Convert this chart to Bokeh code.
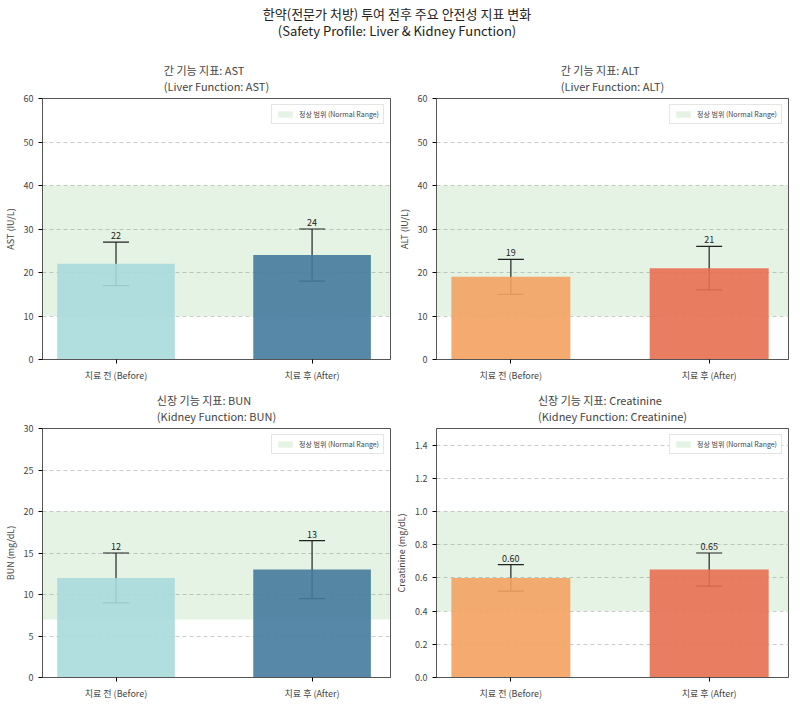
from bokeh.plotting import figure
from bokeh.models import ColumnDataSource, Whisker, BoxAnnotation, FixedTicker, Legend, LegendItem, Div, TeeHead
from bokeh.layouts import gridplot, column
from bokeh.core.properties import value
from bokeh.embed import file_html
from bokeh.resources import INLINE

FONT = "Noto Sans CJK KR"
categories = ["치료 전 (Before)", "치료 후 (After)"]
titles = ["간 기능 지표: AST\n(Liver Function: AST)", "간 기능 지표: ALT\n(Liver Function: ALT)",
          "신장 기능 지표: BUN\n(Kidney Function: BUN)", "신장 기능 지표: Creatinine\n(Kidney Function: Creatinine)"]
ylabels = ["AST (IU/L)", "ALT (IU/L)", "BUN (mg/dL)", "Creatinine (mg/dL)"]
means = [[22, 24], [19, 21], [12, 13], [0.60, 0.65]]
errs = [[5, 6], [4, 5], [3, 3.5], [0.08, 0.10]]
normal_lo = [10, 10, 7, 0.4]
normal_hi = [40, 40, 20, 1.0]
ymax = [60, 60, 30, 1.5]
yticks = [[0, 10, 20, 30, 40, 50, 60], [0, 10, 20, 30, 40, 50, 60], [0, 5, 10, 15, 20, 25, 30],
          [0.0, 0.2, 0.4, 0.6, 0.8, 1.0, 1.2, 1.4]]
fmt = ["{:.0f}", "{:.0f}", "{:.0f}", "{:.2f}"]
colors = [["#a8dadc", "#457b9d"], ["#f4a261", "#e76f51"], ["#a8dadc", "#457b9d"], ["#f4a261", "#e76f51"]]

figs = []
for i in range(4):
    top = i < 2
    left = i % 2 == 0
    p = figure(width=392 if left else 400, height=330 if top else 318, output_backend="svg",
               toolbar_location=None, x_range=(-0.375, 1.4), y_range=(0, ymax[i]),
               min_border_left=28 if left else 35, min_border_right=2 if left else 4,
               min_border_top=4, min_border_bottom=4)
    p.title.text = titles[i]
    p.title.align = "center"
    p.title.text_font = FONT
    p.title.text_font_size = "11px"
    p.title.text_font_style = "normal"
    xs = [0, 1]
    src = ColumnDataSource(dict(x=xs, top=means[i], color=colors[i],
                                lo=[m - e for m, e in zip(means[i], errs[i])],
                                hi=[m + e for m, e in zip(means[i], errs[i])],
                                lab=[fmt[i].format(m) for m in means[i]],
                                ly=[m + e for m, e in zip(means[i], errs[i])]))
    box = BoxAnnotation(bottom=normal_lo[i], top=normal_hi[i], fill_color="#2ca02c", fill_alpha=0.12,
                        line_alpha=0, level="underlay")
    p.add_layout(box)
    p.vbar(x="x", top="top", width=0.6, color="color", fill_alpha=0.9, line_alpha=0, source=src)
    w = Whisker(base="x", lower="lo", upper="hi", source=src, line_color="#222222", line_width=1.2)
    w.upper_head = TeeHead(size=26, line_color="#222222", line_width=1.2)
    w.lower_head = TeeHead(size=26, line_color="#222222", line_width=1.2)
    p.add_layout(w)
    p.text(x="x", y="ly", text="lab", source=src, text_align="center", text_baseline="bottom",
           y_offset=-3, text_font_size="9px", text_color="#222222", text_font=value(FONT))
    r = p.rect(x=[-10], y=[-10], width=0.1, height=0.1, fill_color="#2ca02c", fill_alpha=0.12, line_alpha=0)
    leg = Legend(items=[LegendItem(label="정상 범위 (Normal Range)", renderers=[r])], location="top_right",
                 label_text_font=FONT, label_text_font_size="7px", glyph_width=18, glyph_height=8,
                 border_line_color="#cccccc", padding=4, margin=6, label_height=8, spacing=0)
    p.add_layout(leg)
    p.xaxis.ticker = FixedTicker(ticks=xs)
    p.xaxis.major_label_overrides = {0: categories[0], 1: categories[1]}
    p.yaxis.ticker = FixedTicker(ticks=yticks[i])
    if i == 3:
        p.yaxis.major_label_overrides = {v: f"{v:.1f}" for v in yticks[i]}
    p.yaxis.axis_label = ylabels[i]
    for ax in (p.xaxis, p.yaxis):
        ax.major_label_text_font = FONT
        ax.major_label_text_font_size = "9px"
        ax.axis_label_text_font = FONT
        ax.axis_label_text_font_size = "9px"
        ax.axis_label_text_font_style = "normal"
        ax.minor_tick_line_color = None
        ax.axis_line_color = "#555555"
        ax.major_tick_out = 4
        ax.major_tick_in = 0
    p.yaxis.axis_label_standoff = 4
    p.xgrid.grid_line_color = None
    p.ygrid.grid_line_dash = "4 3"
    p.ygrid.grid_line_color = "#cccccc"
    p.outline_line_color = "#555555"
    p.outline_line_alpha = 1
    figs.append(p)

title = Div(text="<div style='text-align:center;width:784px;font-family:\"Noto Sans CJK KR\";font-size:13px;line-height:17px;color:#222'>"
                 "한약(전문가 처방) 투여 전후 주요 안전성 지표 변화<br>(Safety Profile: Liver &amp; Kidney Function)</div>",
            width=784, height=44)
grid = gridplot([[figs[0], figs[1]], [figs[2], figs[3]]], toolbar_location=None)
layout = column(title, grid)
open("out.html", "w").write(file_html(layout, INLINE))
